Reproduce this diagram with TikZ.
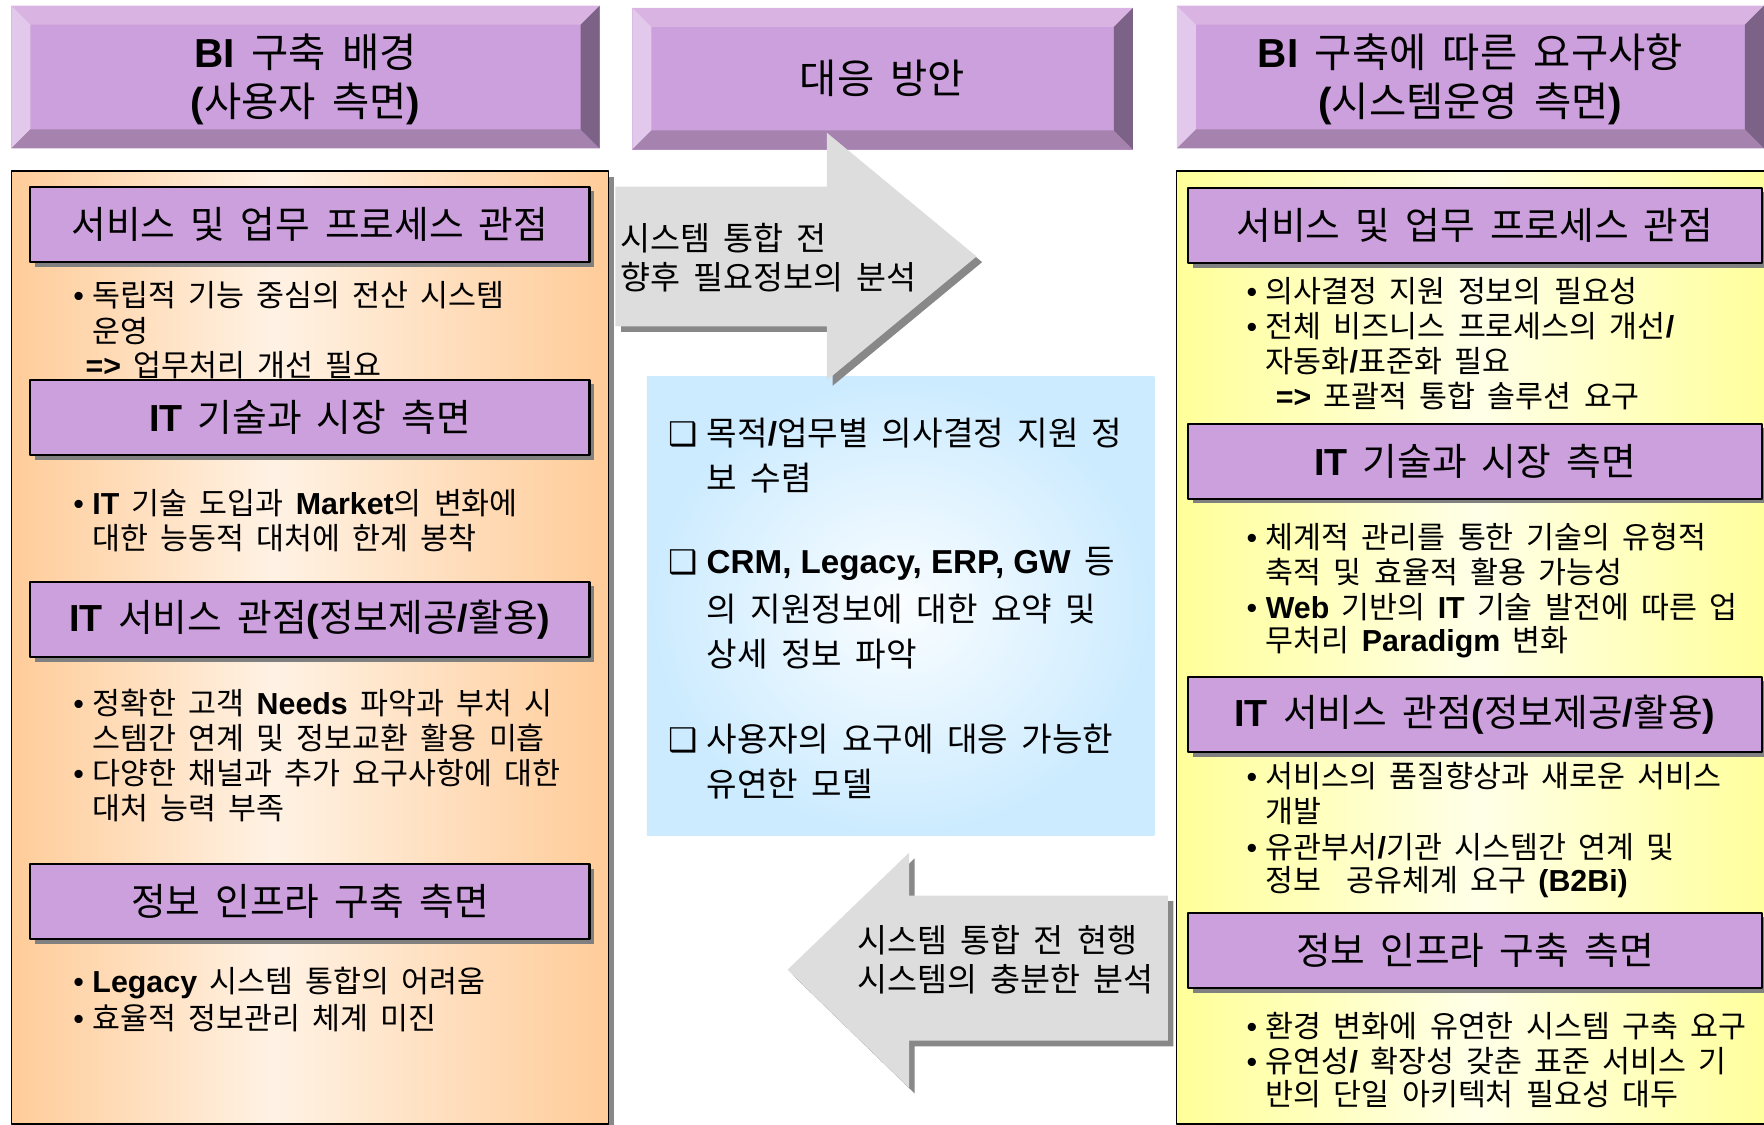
\documentclass[tikz,border=0pt]{standalone}
\usepackage{fontspec}
\setmainfont{Noto Sans CJK KR}[WordSpace=1.8]
\newfontfamily\latin{Liberation Sans}
\newfontfamily\dingfont{DejaVu Sans}
\newcommand{\engb}[1]{{\latin\bfseries #1}}
\newcommand{\bul}{{\latin •}}
\newcommand{\chk}{{\dingfont\bfseries\fontsize{29}{29}\selectfont ❑}}
\usetikzlibrary{calc,positioning,shadows}

\definecolor{pmain}{HTML}{CCA0DC}
\definecolor{bvTop}{HTML}{D9B4E3}
\definecolor{bvLeft}{HTML}{E2C9EC}
\definecolor{bvBot}{HTML}{A683AF}
\definecolor{bvRight}{HTML}{7C6287}
\definecolor{orEdge}{HTML}{FFCC99}
\definecolor{orMid}{HTML}{FFF2E4}
\definecolor{ylEdge}{HTML}{FFFF99}
\definecolor{ylMid}{HTML}{FFFFE8}
\definecolor{blEdge}{HTML}{CCEBFF}
\definecolor{blMid}{HTML}{FAFDFF}
\definecolor{arrFill}{HTML}{DDDDDD}
\definecolor{arrShadow}{HTML}{888888}
\definecolor{subShadow}{HTML}{808080}

\pgfdeclarehorizontalshading{orangeband}{100bp}{color(0bp)=(orEdge); color(25bp)=(orEdge); color(47bp)=(orMid); color(75bp)=(orEdge); color(100bp)=(orEdge)}
\pgfdeclarehorizontalshading{yellowband}{100bp}{color(0bp)=(ylEdge); color(25bp)=(ylEdge); color(50bp)=(ylMid); color(75bp)=(ylEdge); color(100bp)=(ylEdge)}

\begin{document}
\begin{tikzpicture}[x=1pt,y=-1pt,line join=round,line cap=round,
  subhead/.style={draw=black,line width=1.8pt,fill=pmain,inner sep=0pt,minimum height=67pt,
    font=\fontsize{33.5}{38}\selectfont,
    drop shadow={shadow xshift=4pt,shadow yshift=-4pt,fill=subShadow,opacity=1}},
  htitle/.style={align=center,inner sep=0pt,font=\fontsize{36}{43}\selectfont},
  txt/.style={anchor=west,inner sep=0pt,font=\fontsize{27}{31}\selectfont},
  bluetxt/.style={anchor=west,inner sep=0pt,font=\fontsize{29.5}{34}\selectfont},
  arrtxt/.style={anchor=west,align=left,inner sep=0pt,font=\fontsize{29}{34}\selectfont}]
\useasboundingbox (0,0) rectangle (1568,1000);

% bevelled column titles
\foreach \n/\xa/\ya/\xb/\yb in {hA/10/5/533/132,hB/562/7/1007/133,hC/1046/5/1568/132}{
  \fill[pmain] (\xa,\ya) rectangle (\xb,\yb);
  \fill[bvTop] (\xa,\ya) -- (\xb,\ya) -- ({\xb-17},{\ya+17}) -- ({\xa+17},{\ya+17}) -- cycle;
  \fill[bvLeft] (\xa,\ya) -- ({\xa+17},{\ya+17}) -- ({\xa+17},{\yb-17}) -- (\xa,\yb) -- cycle;
  \fill[bvBot] (\xa,\yb) -- ({\xa+17},{\yb-17}) -- ({\xb-17},{\yb-17}) -- (\xb,\yb) -- cycle;
  \fill[bvRight] (\xb,\ya) -- ({\xb-17},{\ya+17}) -- ({\xb-17},{\yb-17}) -- (\xb,\yb) -- cycle;
  \coordinate (\n) at ({(\xa+\xb)/2},{(\ya+\yb)/2});
}
\node[htitle] (tA) at ([yshift=-2pt]hA) {\engb{BI} 구축 배경\\\engb{(}사용자 측면\engb{)}};
\node[htitle] (tB) at (hB) {대응 방안};
\node[htitle] (tC) at ([yshift=-2pt]hC) {\engb{BI} 구축에 따른 요구사항\\\engb{(}시스템운영 측면\engb{)}};

% side panels
\fill[arrShadow] (15,157) rectangle (546,1004);
\draw[line width=1.2pt,shading=orangeband] (10,152) rectangle (541,999);
\draw[line width=1.2pt,shading=yellowband] (1046,152) rectangle (1580,999);

% centre box
\fill[inner color=blMid,outer color=blEdge] (575,335) rectangle (1026,743);

% arrows
\foreach \s/\c in {5/arrShadow,0/arrFill}{
  \fill[\c,shift={(\s,\s)}] (547,166) -- (735,166) -- (735,118) -- (868,228) -- (735,338) -- (735,290) -- (547,290) -- cycle;
  \fill[\c,shift={(\s,\s)}] (1038,796) -- (808,796) -- (808,758) -- (700,862) -- (808,967) -- (808,925) -- (1038,925) -- cycle;
}
\node[arrtxt] (rArr) at (551,229) {시스템 통합 전\\향후 필요정보의 분석};
\node[arrtxt] (lArr) at (762,853) {시스템 통합 전 현행\\시스템의 충분한 분석};

% left column text
\foreach \n/\x/\y/\t in {
  a1/65/262/{\makebox[17pt][l]{\bul}독립적 기능 중심의 전산 시스템},
  a2/82/294/{운영},
  a3/76/325/{\engb{=>} 업무처리 개선 필요},
  a4/65/447/{\makebox[17pt][l]{\bul}\engb{IT} 기술 도입과 \engb{Market}의 변화에},
  a5/82/478/{대한 능동적 대처에 한계 봉착},
  a6/65/625/{\makebox[17pt][l]{\bul}정확한 고객 \engb{Needs} 파악과 부처 시},
  a7/82/656/{스템간 연계 및 정보교환 활용 미흡},
  a8/65/687/{\makebox[17pt][l]{\bul}다양한 채널과 추가 요구사항에 대한},
  a9/82/718/{대처 능력 부족},
  a10/65/874/{\makebox[17pt][l]{\bul}\engb{Legacy} 시스템 통합의 어려움},
  a11/65/905/{\makebox[17pt][l]{\bul}효율적 정보관리 체계 미진}}
  \node[txt] (\n) at (\x,\y) {\t};

% right column text
\foreach \n/\x/\y/\t in {
  b1/1108/259/{\makebox[17pt][l]{\bul}의사결정 지원 정보의 필요성},
  b2/1108/290/{\makebox[17pt][l]{\bul}전체 비즈니스 프로세스의 개선\engb{/}},
  b3/1125/321/{자동화\engb{/}표준화 필요},
  b4/1134/352/{\engb{=>} 포괄적 통합 솔루션 요구},
  b5/1108/477/{\makebox[17pt][l]{\bul}체계적 관리를 통한 기술의 유형적},
  b6/1125/508/{축적 및 효율적 활용 가능성},
  b7/1108/540/{\makebox[17pt][l]{\bul}\engb{Web} 기반의 \engb{IT} 기술 발전에 따른 업},
  b8/1125/571/{무처리 \engb{Paradigm} 변화},
  b9/1108/690/{\makebox[17pt][l]{\bul}서비스의 품질향상과 새로운 서비스},
  b10/1125/721/{개발},
  b11/1108/753/{\makebox[17pt][l]{\bul}유관부서\engb{/}기관 시스템간 연계 및},
  b12/1125/784/{정보\ \ 공유체계 요구 \engb{(B2Bi)}},
  b13/1108/912/{\makebox[17pt][l]{\bul}환경 변화에 유연한 시스템 구축 요구},
  b14/1108/943/{\makebox[17pt][l]{\bul}유연성\engb{/} 확장성 갖춘 표준 서비스 기},
  b15/1125/973/{반의 단일 아키텍처 필요성 대두}}
  \node[txt] (\n) at (\x,\y) {\t};

% centre text
\foreach \n/\x/\y/\t in {
  c1/594/385/{\makebox[34pt][l]{\chk}목적\engb{/}업무별 의사결정 지원 정},
  c2/628/425/{보 수렴},
  c3/594/501/{\makebox[34pt][l]{\chk}\engb{CRM, Legacy, ERP, GW} 등},
  c4/628/541/{의 지원정보에 대한 요약 및},
  c5/628/581/{상세 정보 파악},
  c6/594/657/{\makebox[34pt][l]{\chk}사용자의 요구에 대응 가능한},
  c7/628/697/{유연한 모델}}
  \node[bluetxt] (\n) at (\x,\y) {\t};

% section titles
\foreach \n/\cx/\cy/\w/\t in {
  L1/275.5/199.5/497pt/{서비스 및 업무 프로세스 관점},
  L2/275.5/371/497pt/{\engb{IT} 기술과 시장 측면},
  L3/275.5/550.5/497pt/{\engb{IT} 서비스 관점\engb{(}정보제공\engb{/}활용\engb{)}},
  L4/275.5/801.5/497pt/{정보 인프라 구축 측면},
  R1/1311/200.5/510pt/{서비스 및 업무 프로세스 관점},
  R2/1311/410/510pt/{\engb{IT} 기술과 시장 측면},
  R3/1311/635/510pt/{\engb{IT} 서비스 관점\engb{(}정보제공\engb{/}활용\engb{)}},
  R4/1311/845/510pt/{정보 인프라 구축 측면}}
  \node[subhead,minimum width=\w] (\n) at (\cx,\cy) {\t};
\end{tikzpicture}
\end{document}
